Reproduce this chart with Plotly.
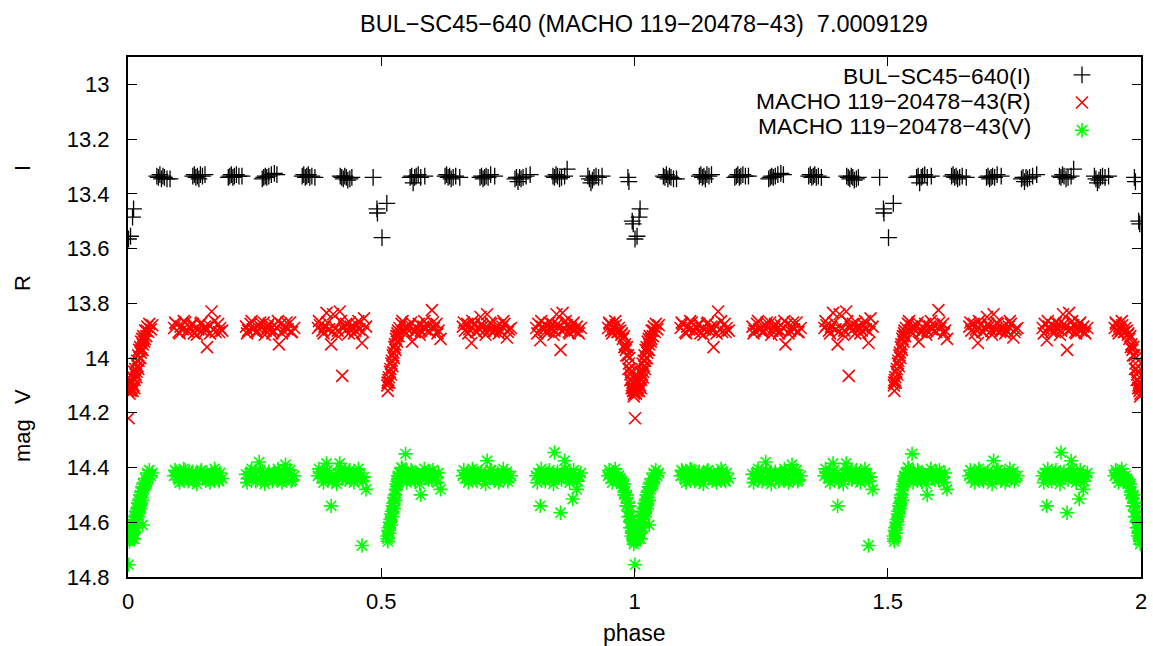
import plotly.graph_objects as go

M = "\u2212"
TITLE = f"BUL{M}SC45{M}640 (MACHO 119{M}20478{M}43) \u00a07.0009129"
NAME_I = f"BUL{M}SC45{M}640(I)"
NAME_R = f"MACHO 119{M}20478{M}43(R)"
NAME_V = f"MACHO 119{M}20478{M}43(V)"

x_tickvals = [0, 0.5, 1, 1.5, 2]
x_ticktext = ["0", "0.5", "1", "1.5", "2"]
y_tickvals = [13, 13.2, 13.4, 13.6, 13.8, 14, 14.2, 14.4, 14.6, 14.8]
y_ticktext = ["13", "13.2", "13.4", "13.6", "13.8", "14", "14.2", "14.4", "14.6", "14.8"]

# ---- OGLE I band (phase 0..1) ----
i_phase = [
    0.057, 0.060, 0.063, 0.066, 0.069, 0.072, 0.077, 0.083,
    0.128, 0.131, 0.134, 0.137, 0.140, 0.143, 0.147, 0.152,
    0.198, 0.201, 0.204, 0.207, 0.210, 0.214, 0.219, 0.225,
    0.265, 0.268, 0.271, 0.274, 0.278, 0.283, 0.289, 0.294,
    0.344, 0.347, 0.350, 0.353, 0.356, 0.359, 0.363, 0.369,
    0.419, 0.422, 0.425, 0.428, 0.431, 0.434, 0.438, 0.442,
    0.484, 0.4915, 0.4925, 0.5015, 0.511,
    0.557, 0.560, 0.563, 0.566, 0.569, 0.573, 0.578, 0.586,
    0.626, 0.629, 0.632, 0.635, 0.638, 0.642, 0.647, 0.655,
    0.695, 0.698, 0.701, 0.704, 0.707, 0.711, 0.716, 0.724,
    0.764, 0.767, 0.770, 0.773, 0.776, 0.780, 0.786, 0.794,
    0.839, 0.842, 0.845, 0.848, 0.852, 0.856, 0.862, 0.867,
    0.908, 0.911, 0.914, 0.917, 0.920, 0.924, 0.929, 0.936,
    0.987, 0.989, 0.9955, 0.9975, 0.001, 0.005, 0.009, 0.011,
]
i_mag = [
    13.335, 13.34, 13.33, 13.345, 13.335, 13.34, 13.345, 13.345,
    13.335, 13.33, 13.34, 13.335, 13.345, 13.33, 13.335, 13.33,
    13.34, 13.335, 13.33, 13.34, 13.335, 13.33, 13.335, 13.335,
    13.345, 13.34, 13.335, 13.34, 13.335, 13.33, 13.325, 13.33,
    13.335, 13.33, 13.34, 13.335, 13.33, 13.34, 13.335, 13.34,
    13.335, 13.34, 13.345, 13.335, 13.34, 13.35, 13.345, 13.34,
    13.34, 13.455, 13.47, 13.56, 13.435,
    13.34, 13.335, 13.36, 13.34, 13.335, 13.33, 13.34, 13.335,
    13.335, 13.33, 13.34, 13.335, 13.345, 13.34, 13.335, 13.34,
    13.34, 13.335, 13.345, 13.34, 13.335, 13.34, 13.33, 13.335,
    13.345, 13.34, 13.355, 13.34, 13.345, 13.34, 13.335, 13.33,
    13.335, 13.34, 13.33, 13.335, 13.345, 13.34, 13.335, 13.31,
    13.335, 13.345, 13.36, 13.35, 13.34, 13.335, 13.34, 13.335,
    13.34, 13.355, 13.50, 13.51, 13.565, 13.555, 13.485, 13.455,
]

# ---- MACHO R and V (shared phases, 0..1) ----
macho_phase = [
    # A: primary egress
    0.000, 0.001, 0.002, 0.003, 0.004, 0.005, 0.006, 0.007, 0.008, 0.009,
    0.010, 0.011, 0.012, 0.013, 0.014, 0.015, 0.016, 0.017, 0.018, 0.019,
    0.020, 0.021, 0.022, 0.023, 0.024, 0.025, 0.026, 0.027, 0.028, 0.029,
    0.030, 0.032, 0.034, 0.036, 0.038, 0.040, 0.042, 0.045, 0.048,
    0.0125, 0.0165, 0.0205, 0.0245, 0.0285, 0.033, 0.037,
    # B
    0.091, 0.095, 0.100, 0.104, 0.108, 0.113, 0.117, 0.121, 0.126, 0.130, 0.134, 0.139,
    0.143, 0.147, 0.152, 0.156, 0.160, 0.165, 0.169, 0.173, 0.178, 0.182, 0.186,
    0.093, 0.102, 0.110, 0.119, 0.128, 0.136, 0.145, 0.154, 0.162, 0.171, 0.180,
    # C
    0.233, 0.237, 0.242, 0.246, 0.250, 0.255, 0.259, 0.263, 0.268, 0.272, 0.276, 0.281,
    0.285, 0.289, 0.294, 0.298, 0.302, 0.307, 0.311, 0.315, 0.320, 0.324, 0.328,
    0.235, 0.244, 0.252, 0.261, 0.270, 0.278, 0.287, 0.296, 0.304, 0.313, 0.322,
    # D
    0.375, 0.379, 0.384, 0.388, 0.392, 0.397, 0.401, 0.405, 0.410, 0.414, 0.418, 0.423,
    0.427, 0.431, 0.436, 0.440, 0.444, 0.449, 0.453, 0.457, 0.462, 0.466, 0.470,
    0.377, 0.386, 0.394, 0.403, 0.412, 0.420, 0.429, 0.438, 0.446, 0.455, 0.464,
    # E: secondary egress + flat
    0.512, 0.513, 0.514, 0.516, 0.517, 0.519, 0.520, 0.522, 0.523, 0.525, 0.526, 0.528,
    0.529, 0.531, 0.532, 0.534, 0.536,
    0.540, 0.544, 0.548, 0.552, 0.557, 0.561, 0.565, 0.570, 0.574, 0.578, 0.583, 0.587,
    0.591, 0.596, 0.600, 0.604, 0.609, 0.613, 0.617,
    0.5125, 0.515, 0.518, 0.521, 0.524, 0.527, 0.530, 0.533,
    0.542, 0.550, 0.559, 0.567, 0.576, 0.585, 0.593, 0.602, 0.611,
    # F
    0.661, 0.665, 0.670, 0.674, 0.678, 0.683, 0.687, 0.691, 0.696, 0.700, 0.704, 0.709,
    0.713, 0.717, 0.722, 0.726, 0.730, 0.735, 0.739, 0.743, 0.748, 0.752, 0.756,
    0.663, 0.672, 0.680, 0.689, 0.698, 0.706, 0.715, 0.724, 0.732, 0.741, 0.750,
    # G
    0.806, 0.810, 0.814, 0.818, 0.822, 0.826, 0.830, 0.834, 0.838, 0.842, 0.846, 0.850,
    0.854, 0.858, 0.862, 0.866, 0.870, 0.874, 0.878, 0.882, 0.886, 0.890, 0.894,
    0.808, 0.816, 0.824, 0.832, 0.840, 0.848, 0.856, 0.864, 0.872, 0.880, 0.888,
    # H: flat + primary ingress
    0.948, 0.951, 0.954, 0.957, 0.960, 0.963, 0.966, 0.969, 0.972, 0.975, 0.977, 0.979,
    0.981, 0.983, 0.985, 0.987, 0.989, 0.990, 0.991, 0.992, 0.993, 0.994, 0.995, 0.996,
    0.997, 0.998, 0.999,
    0.950, 0.956, 0.962, 0.968, 0.974, 0.980, 0.984, 0.988, 0.9915, 0.9945, 0.9985,
]
macho_r = [
    # A
    14.12, 14.22, 14.10, 14.13, 14.09, 14.12, 14.08, 14.11, 14.09, 14.12,
    14.07, 14.10, 14.05, 14.08, 14.04, 14.06, 14.02, 14.05, 14.01, 14.03,
    13.99, 14.01, 13.97, 14.00, 13.96, 13.98, 13.94, 13.97, 13.93, 13.95,
    13.92, 13.94, 13.90, 13.92, 13.885, 13.905, 13.875, 13.895, 13.88,
    14.11, 14.07, 14.04, 14.00, 13.97, 13.93, 13.90,
    # B
    13.89, 13.875, 13.905, 13.885, 13.895, 13.87, 13.9, 13.885, 13.88, 13.91, 13.89, 13.895,
    13.875, 13.9, 13.885, 13.96, 13.88, 13.83, 13.895, 13.905, 13.875, 13.89, 13.9,
    13.87, 13.91, 13.865, 13.905, 13.875, 13.915, 13.87, 13.9, 13.91, 13.865, 13.905,
    # C
    13.885, 13.9, 13.875, 13.895, 13.89, 13.905, 13.88, 13.89, 13.87, 13.9, 13.885, 13.895,
    13.91, 13.88, 13.89, 13.95, 13.875, 13.9, 13.885, 13.895, 13.87, 13.905, 13.89,
    13.91, 13.865, 13.905, 13.87, 13.915, 13.875, 13.9, 13.865, 13.91, 13.87, 13.905,
    # D
    13.89, 13.88, 13.9, 13.885, 13.835, 13.895, 13.95, 13.84, 13.89, 13.9, 13.83, 14.065,
    13.885, 13.875, 13.91, 13.885, 13.89, 13.9, 13.88, 13.895, 13.945, 13.855, 13.885,
    13.865, 13.91, 13.87, 13.905, 13.915, 13.865, 13.9, 13.87, 13.91, 13.865, 13.905,
    # E
    14.10, 14.12, 14.08, 14.09, 14.05, 14.06, 14.02, 14.03, 13.99, 14.00, 13.96, 13.97,
    13.93, 13.94, 13.91, 13.92, 13.89,
    13.875, 13.9, 13.885, 13.895, 13.88, 13.94, 13.905, 13.89, 13.875, 13.9, 13.885, 13.895,
    13.88, 13.905, 13.825, 13.89, 13.875, 13.9, 13.93,
    14.09, 14.07, 14.04, 14.01, 13.98, 13.95, 13.92, 13.90,
    13.865, 13.91, 13.87, 13.905, 13.915, 13.865, 13.9, 13.87, 13.91,
    # F
    13.885, 13.9, 13.875, 13.895, 13.945, 13.88, 13.905, 13.89, 13.85, 13.885, 13.9, 13.84,
    13.895, 13.875, 13.905, 13.89, 13.88, 13.9, 13.885, 13.875, 13.925, 13.895, 13.89,
    13.87, 13.91, 13.865, 13.905, 13.875, 13.915, 13.87, 13.9, 13.91, 13.865, 13.905,
    # G
    13.89, 13.875, 13.935, 13.885, 13.895, 13.88, 13.905, 13.89, 13.875, 13.9, 13.84, 13.885,
    13.97, 13.835, 13.895, 13.88, 13.905, 13.89, 13.875, 13.9, 13.885, 13.91, 13.89,
    13.91, 13.865, 13.905, 13.87, 13.915, 13.875, 13.9, 13.865, 13.91, 13.87, 13.905,
    # H
    13.89, 13.875, 13.9, 13.885, 13.895, 13.88, 13.905, 13.89, 13.9, 13.91, 13.93, 13.92,
    13.95, 13.97, 13.96, 13.99, 14.02, 14.00, 14.04, 14.06, 14.05, 14.08, 14.10, 14.09,
    14.12, 14.11, 14.13,
    13.87, 13.91, 13.865, 13.905, 13.915, 13.96, 13.99, 14.04, 14.08, 14.11, 14.14,
]
macho_v = [
    # A
    14.66, 14.755, 14.64, 14.67, 14.63, 14.66, 14.62, 14.65, 14.63, 14.66,
    14.61, 14.64, 14.59, 14.62, 14.58, 14.60, 14.56, 14.59, 14.55, 14.57,
    14.53, 14.56, 14.52, 14.54, 14.50, 14.53, 14.49, 14.51, 14.47, 14.61,
    14.46, 14.48, 14.44, 14.46, 14.42, 14.44, 14.41, 14.43, 14.42,
    14.66, 14.62, 14.58, 14.55, 14.52, 14.47, 14.45,
    # B
    14.43, 14.415, 14.445, 14.425, 14.435, 14.41, 14.44, 14.43, 14.42, 14.45, 14.425, 14.435,
    14.415, 14.44, 14.43, 14.42, 14.445, 14.425, 14.435, 14.415, 14.445, 14.42, 14.44,
    14.41, 14.455, 14.405, 14.45, 14.415, 14.46, 14.41, 14.445, 14.455, 14.405, 14.45,
    # C
    14.425, 14.44, 14.415, 14.435, 14.43, 14.445, 14.38, 14.43, 14.42, 14.44, 14.425, 14.435,
    14.45, 14.42, 14.43, 14.415, 14.44, 14.445, 14.39, 14.425, 14.41, 14.445, 14.43,
    14.455, 14.405, 14.45, 14.41, 14.46, 14.415, 14.445, 14.405, 14.455, 14.41, 14.45,
    # D
    14.43, 14.42, 14.44, 14.425, 14.385, 14.435, 14.54, 14.445, 14.43, 14.42, 14.385, 14.44,
    14.425, 14.435, 14.415, 14.445, 14.425, 14.43, 14.44, 14.42, 14.685, 14.435, 14.48,
    14.405, 14.455, 14.41, 14.45, 14.46, 14.405, 14.445, 14.41, 14.455, 14.405, 14.45,
    # E
    14.65, 14.67, 14.63, 14.64, 14.60, 14.61, 14.57, 14.58, 14.54, 14.55, 14.51, 14.52,
    14.48, 14.47, 14.45, 14.44, 14.42,
    14.40, 14.425, 14.35, 14.44, 14.43, 14.415, 14.445, 14.425, 14.435, 14.50, 14.42, 14.44,
    14.43, 14.415, 14.445, 14.425, 14.435, 14.42, 14.48,
    14.66, 14.62, 14.59, 14.56, 14.53, 14.50, 14.46, 14.43,
    14.405, 14.455, 14.41, 14.45, 14.46, 14.405, 14.445, 14.41, 14.455,
    # F
    14.43, 14.44, 14.42, 14.435, 14.425, 14.415, 14.445, 14.43, 14.42, 14.44, 14.425, 14.375,
    14.435, 14.41, 14.44, 14.43, 14.42, 14.445, 14.425, 14.435, 14.415, 14.44, 14.43,
    14.41, 14.455, 14.405, 14.45, 14.415, 14.46, 14.41, 14.445, 14.455, 14.405, 14.45,
    # G
    14.43, 14.42, 14.54, 14.425, 14.44, 14.435, 14.42, 14.43, 14.44, 14.345, 14.425, 14.435,
    14.565, 14.43, 14.375, 14.42, 14.44, 14.425, 14.515, 14.435, 14.48, 14.43, 14.42,
    14.455, 14.405, 14.45, 14.41, 14.46, 14.415, 14.445, 14.405, 14.455, 14.41, 14.45,
    # H
    14.43, 14.42, 14.44, 14.425, 14.435, 14.42, 14.44, 14.43, 14.44, 14.45, 14.47, 14.46,
    14.49, 14.51, 14.50, 14.53, 14.56, 14.54, 14.58, 14.60, 14.59, 14.62, 14.64, 14.63,
    14.66, 14.65, 14.67,
    14.41, 14.455, 14.405, 14.45, 14.46, 14.50, 14.54, 14.58, 14.62, 14.65, 14.68,
]

assert len(i_phase) == len(i_mag)
assert len(macho_phase) == len(macho_r) == len(macho_v)


def two_cycles(ph):
    return list(ph) + [p + 1 for p in ph]


FONT = "Liberation Sans, Arial, Helvetica, sans-serif"
FS = 22

fig = go.Figure()
fig.add_trace(go.Scatter(
    x=two_cycles(i_phase), y=list(i_mag) * 2, mode="markers", name=" ",
    marker=dict(symbol="cross-thin", size=12, color="black", line=dict(width=1.3, color="black")),
))
fig.add_trace(go.Scatter(
    x=two_cycles(macho_phase), y=list(macho_r) * 2, mode="markers", name=" ",
    marker=dict(symbol="x-thin", size=12, color="#ff0000", line=dict(width=1.6, color="#ff0000")),
))
fig.add_trace(go.Scatter(
    x=two_cycles(macho_phase), y=list(macho_v) * 2, mode="markers", name=" ",
    marker=dict(symbol="asterisk", size=12, color="#00ff00", line=dict(width=1.6, color="#00ff00")),
))

L, R, T, B = 128, 12, 57, 69
PW, PH = 1153 - L - R, 646 - T - B


def px_to_paper_x(px):
    return (px - L) / PW


def px_to_paper_y(py):
    return 1 - (py - T) / PH


axis_common = dict(
    showline=True, linecolor="black", linewidth=2, mirror="ticks",
    ticks="inside", ticklen=9, tickwidth=1.2, tickcolor="black",
    showgrid=False, zeroline=False, automargin=False,
    tickfont=dict(family=FONT, size=FS, color="black"),
)

fig.update_layout(
    width=1153, height=646,
    margin=dict(l=L, r=R, t=T, b=B, autoexpand=False),
    paper_bgcolor="white", plot_bgcolor="white",
    font=dict(family=FONT, size=FS, color="black"),
    title=dict(text=TITLE, x=644 / 1153, xanchor="center", xref="container",
               y=1 - 24 / 646, yanchor="middle", yref="container",
               font=dict(family=FONT, size=23.5, color="black")),
    xaxis=dict(range=[0, 2], tickvals=x_tickvals, ticktext=x_ticktext,
               ticklabelstandoff=4, **axis_common),
    yaxis=dict(range=[14.8, 12.9], tickvals=y_tickvals, ticktext=y_ticktext,
               ticklabelstandoff=12, **axis_common),
    showlegend=True,
    legend=dict(x=px_to_paper_x(1062), xanchor="left", y=px_to_paper_y(56), yanchor="top",
                bgcolor="rgba(0,0,0,0)", borderwidth=0, tracegroupgap=0,
                font=dict(family=FONT, size=19, color="black"), itemwidth=30),
)

for txt, py in [(NAME_I, 76), (NAME_R, 101), (NAME_V, 126)]:
    fig.add_annotation(text=txt, x=px_to_paper_x(1033), y=px_to_paper_y(py),
                       xref="paper", yref="paper", xanchor="right", yanchor="middle",
                       showarrow=False, font=dict(family=FONT, size=22.8, color="black"))

fig.add_annotation(text="phase", x=0.5, y=px_to_paper_y(633), xref="paper", yref="paper",
                   xanchor="center", yanchor="middle", showarrow=False,
                   font=dict(family=FONT, size=23, color="black"))
for txt, py in [("I", 168), ("R", 283), ("V", 397), ("mag", 441)]:
    fig.add_annotation(text=txt, x=px_to_paper_x(22), y=px_to_paper_y(py),
                       xref="paper", yref="paper", showarrow=False, textangle=-90,
                       xanchor="center", yanchor="middle",
                       font=dict(family=FONT, size=FS, color="black"))

fig.write_html("out.html")
